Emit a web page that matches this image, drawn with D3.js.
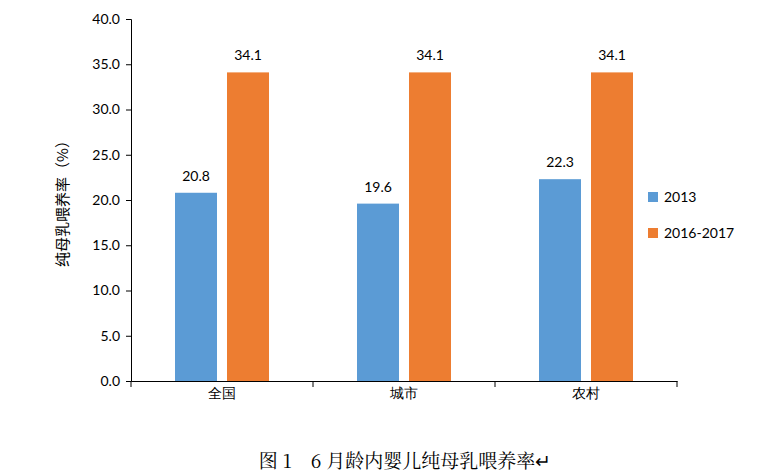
<!DOCTYPE html>
<html><head><meta charset="utf-8">
<script src="https://cdn.jsdelivr.net/npm/d3@7"></script>
<style>body{margin:0;background:#fff}</style></head>
<body><svg id="c" width="769" height="476"></svg>
<script>
const categories=["全国","城市","农村"];
const series=["2013","2016-2017"];
const v2013=[20.8,19.6,22.3];
const v2016=[34.1,34.1,34.1];
const yTicks=[0,5,10,15,20,25,30,35,40];
const colors=["#5B9BD5","#ED7D31"];
const svg=d3.select("#c");
const font="Lato, 'Open Sans', sans-serif";
const x=d3.scaleBand().domain(categories).range([131,677]);
const y=d3.scaleLinear().domain([0,40]).range([381,19]);
const vals=[v2013,v2016];
const bw=42,gap=10;
categories.forEach((c,i)=>{
  const cx=x(c)+x.bandwidth()/2;
  vals.forEach((arr,s)=>{
    const x0=s===0?cx-gap/2-bw:cx+gap/2;
    svg.append("rect").attr("x",x0).attr("y",y(arr[i])).attr("width",bw).attr("height",y(0)-y(arr[i])).attr("fill",colors[s]);
    svg.append("text").attr("x",x0+bw/2).attr("y",y(arr[i])-12).attr("text-anchor","middle").attr("font-family",font).attr("font-size",14).attr("fill","#000").text(arr[i].toFixed(1));
  });
});
const ya=svg.append("g").attr("transform","translate(131,0)").call(d3.axisLeft(y).tickValues(yTicks).tickFormat(d3.format(".1f")).tickSize(5));
ya.selectAll("text").attr("font-family",font).attr("font-size",14).attr("fill","#000").attr("dx",-3);
ya.selectAll("line,path").attr("stroke","#000");
const xa=svg.append("g").attr("transform","translate(0,381)").call(d3.axisBottom(x).tickSize(0).tickSizeOuter(0));
xa.select("path").attr("stroke","#000");
xa.selectAll("text").attr("font-family",font).attr("font-size",14).attr("fill","#000").attr("dy",14);
[0,1,2,3].forEach(k=>{const xx=131+k*x.bandwidth();xa.append("line").attr("x1",xx).attr("x2",xx).attr("y1",0).attr("y2",6).attr("stroke","#000");});
svg.append("text").attr("transform","translate(68,200) rotate(-90)").attr("text-anchor","middle").attr("font-family","'Noto Sans CJK SC'").attr("font-size",15).text("纯母乳喂养率（%）");
series.forEach((s,i)=>{
  const ly=[197,233][i];
  svg.append("rect").attr("x",648).attr("y",ly-5).attr("width",10).attr("height",10).attr("fill",colors[i]);
  svg.append("text").attr("x",664).attr("y",ly+5).attr("font-family",font).attr("font-size",14).text(s);
});
svg.append("text").attr("x",405).attr("y",468).attr("text-anchor","middle").attr("font-family","'Noto Serif CJK SC','Noto Sans CJK SC',serif").attr("font-size",19).text("图 1　6 月龄内婴儿纯母乳喂养率↵");
</script></body></html>
